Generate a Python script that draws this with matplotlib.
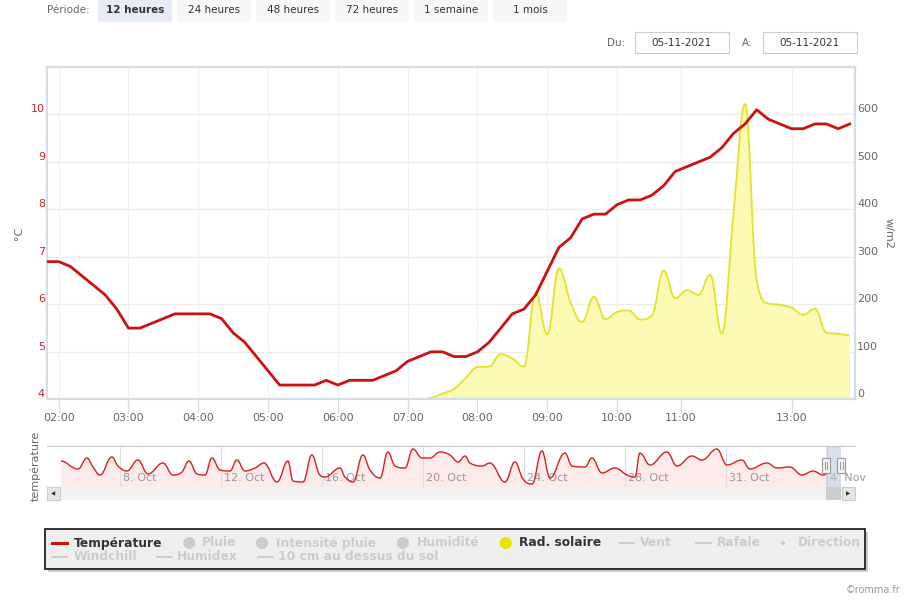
import matplotlib
matplotlib.use("Agg")
import matplotlib.pyplot as plt
from matplotlib.path import Path
from matplotlib.patches import PathPatch, Rectangle, Circle
from matplotlib.transforms import IdentityTransform, blended_transform_factory, offset_copy
from matplotlib.lines import Line2D

# ---------------- data ----------------
# main chart: ordinal index of 10-minute readings (01:50 -> 13:30)
temperature = [6.9, 6.9, 6.8, 6.6, 6.4, 6.2, 5.9, 5.5, 5.5, 5.6,
               5.7, 5.8, 5.8, 5.8, 5.8, 5.7, 5.4, 5.2, 4.9, 4.6,
               4.3, 4.3, 4.3, 4.3, 4.4, 4.3, 4.4, 4.4, 4.4, 4.5,
               4.6, 4.8, 4.9, 5.0, 5.0, 4.9, 4.9, 5.0, 5.2, 5.5,
               5.8, 5.9, 6.2, 6.7, 7.2, 7.4, 7.8, 7.9, 7.9, 8.1,
               8.2, 8.2, 8.3, 8.5, 8.8, 8.9, 9.0, 9.1, 9.3, 9.6,
               9.8, 10.1, 9.9, 9.8, 9.7, 9.7, 9.8, 9.8, 9.7, 9.8]
radiation = [0] * 33 + [3, 12, 22, 45, 68, 69, 95, 86, 69, 225,
                        137, 276, 204, 163, 216, 169, 184, 187, 168, 177,
                        271, 213, 230, 220, 262, 139, 390, 622, 250, 202,
                        199, 193, 178, 191, 140, 138, 134]
point_index = list(range(len(temperature)))
time_tick_pos = [1, 7, 13, 19, 25, 31, 37, 43, 49, 54.5, 64]
time_tick_labels = ["02:00", "03:00", "04:00", "05:00", "06:00", "07:00",
                    "08:00", "09:00", "10:00", "11:00", "13:00"]
temp_ticks = [4, 5, 6, 7, 8, 9, 10]
rad_ticks = [0, 100, 200, 300, 400, 500, 600]

# navigator: ordinal day position (October days) and temperature
nav_day = [5.66, 5.82, 6.10, 6.34, 6.69, 6.93, 7.21, 7.68, 7.92, 8.28,
           8.71, 9.11, 9.70, 10.10, 10.46, 10.73, 11.05, 11.37, 11.64, 11.96,
           12.36, 12.63, 12.95, 13.35, 13.70, 14.22, 14.65, 14.85, 15.25, 15.60,
           15.92, 16.12, 16.71, 16.91, 17.23, 17.62, 17.90, 18.30, 18.61, 18.89,
           19.29, 19.60, 19.96, 20.28, 20.67, 21.07, 21.39, 21.66, 21.86, 22.34,
           22.65, 23.25, 23.64, 23.96, 24.32, 24.71, 25.03, 25.62, 25.90, 26.42,
           26.69, 27.09, 27.60, 28.08, 28.40, 28.59, 28.99, 29.66, 30.06, 30.65,
           31.05, 31.64, 32.04, 32.63, 32.95, 33.62, 34.02, 34.53, 35.01, 35.45,
           35.84, 36.04]
nav_temp = [13.6, 13.2, 11.2, 10.4, 14.8, 11.2, 8.0, 15.2, 11.6, 9.6,
            14.0, 8.4, 12.8, 8.0, 9.2, 13.6, 8.4, 8.0, 14.8, 10.0,
            9.6, 14.0, 9.6, 10.8, 12.8, 5.2, 13.6, 5.6, 5.2, 16.0,
            8.0, 7.2, 10.8, 7.2, 5.2, 16.0, 10.0, 6.8, 17.2, 11.6,
            10.8, 18.4, 14.8, 14.8, 17.2, 16.0, 13.2, 15.6, 12.8, 11.6,
            12.8, 5.2, 13.2, 6.4, 4.4, 17.6, 6.8, 16.8, 11.6, 11.2,
            14.8, 8.8, 10.8, 8.0, 7.2, 16.8, 12.0, 17.2, 11.6, 15.6,
            14.0, 18.4, 12.0, 14.0, 10.4, 12.8, 10.8, 11.2, 8.0, 9.6,
            8.0, 8.8]
nav_tick_pos = [8, 12, 16, 20, 24, 28, 32, 36]
nav_tick_labels = ["8. Oct", "12. Oct", "16. Oct", "20. Oct", "24. Oct",
                   "28. Oct", "31. Oct", "4. Nov"]

periods = ["12 heures", "24 heures", "48 heures", "72 heures", "1 semaine", "1 mois"]
date_from = "05-11-2021"
date_to = "05-11-2021"

legend_row1 = ["Température", "Pluie", "Intensité pluie", "Humidité",
               "Rad. solaire", "Vent", "Rafale", "Direction"]
legend_row2 = ["Windchill", "Humidex", "10 cm au dessus du sol"]

# ---------------- styles / layout ----------------
W, H = 910, 600
RED = "#cc1111"
YEL_LINE = "#e3e32a"
YEL_FILL = "#fbf9ab"
GREY_TXT = "#666666"
INACTIVE = "#cccccc"

fig = plt.figure(figsize=(W / 100, H / 100), dpi=100)
fig.patch.set_facecolor("white")


def fx(x):
    return x / W


def fy(y):
    return 1 - y / H


def spline(xs, ys):
    """Highcharts-like spline path (smoothing 1.5)."""
    n = len(xs)
    sm, den = 1.5, 2.5
    lc = [None] * n
    rc = [None] * n
    for i in range(1, n - 1):
        px, py = xs[i], ys[i]
        lx, ly = xs[i - 1], ys[i - 1]
        nx, ny = xs[i + 1], ys[i + 1]
        lcx, lcy = (sm * px + lx) / den, (sm * py + ly) / den
        rcx, rcy = (sm * px + nx) / den, (sm * py + ny) / den
        corr = 0
        if rcx != lcx:
            corr = (rcy - lcy) * (rcx - px) / (rcx - lcx) + py - rcy
        lcy += corr
        rcy += corr
        if lcy > ly and lcy > py:
            lcy = max(ly, py); rcy = 2 * py - lcy
        elif lcy < ly and lcy < py:
            lcy = min(ly, py); rcy = 2 * py - lcy
        if rcy > ny and rcy > py:
            rcy = max(ny, py); lcy = 2 * py - rcy
        elif rcy < ny and rcy < py:
            rcy = min(ny, py); lcy = 2 * py - rcy
        lc[i] = (lcx, lcy)
        rc[i] = (rcx, rcy)
    verts = [(xs[0], ys[0])]
    codes = [Path.MOVETO]
    for i in range(1, n):
        c1 = rc[i - 1] if rc[i - 1] else (xs[i - 1], ys[i - 1])
        c2 = lc[i] if lc[i] else (xs[i], ys[i])
        verts += [c1, c2, (xs[i], ys[i])]
        codes += [Path.CURVE4] * 3
    return verts, codes


# ---------------- main chart ----------------
ax_r = fig.add_axes([fx(47), fy(399.3), (855 - 47) / W, (399.3 - 67) / H])
ax_r.set_xlim(0, 69.45)
ax_r.set_ylim(0, 700)
ax_t = ax_r.twinx()
ax_t.set_ylim(4, 11)

for a in (ax_r, ax_t):
    for s in a.spines.values():
        s.set_color("#d3dfe8")
        s.set_linewidth(1.5)

# grid
for v in rad_ticks:
    ax_r.axhline(v, color="#ececec", lw=0.8, zorder=0)
for p in time_tick_pos:
    ax_r.axvline(p, color="#eef1f4", lw=0.8, zorder=0)

# radiation area spline
v, c = spline(point_index, radiation)
fill_verts = v + [(point_index[-1], 0), (point_index[0], 0), (point_index[0], 0)]
fill_codes = c + [Path.LINETO, Path.LINETO, Path.CLOSEPOLY]
ax_r.add_patch(PathPatch(Path(fill_verts, fill_codes), facecolor=YEL_FILL,
                         edgecolor="none", alpha=0.9, zorder=1))
ax_r.add_patch(PathPatch(Path(v, c), facecolor="none", edgecolor=YEL_LINE,
                         lw=1.3, zorder=2))

# temperature line
ax_t.plot(point_index, temperature, color=RED, lw=2.0, zorder=5,
          solid_joinstyle="round")

# x ticks
ax_r.set_xticks(time_tick_pos)
ax_r.set_xticklabels(time_tick_labels)
ax_r.tick_params(axis="x", length=10, width=1, color="#d3dfe8", pad=0.0,
                 labelsize=8, labelcolor=GREY_TXT)
ax_r.set_yticks([])
ax_t.set_yticks([])

# y labels (drawn as text so they sit slightly above grid lines like the original)
tl = offset_copy(blended_transform_factory(ax_t.transAxes, ax_t.transData),
                 fig=fig, x=-2, y=5, units="dots")
for t in temp_ticks:
    ax_t.text(0, t, str(t), transform=tl, ha="right", va="center",
              fontsize=8, color="#c62828", clip_on=False)
tr = offset_copy(blended_transform_factory(ax_r.transAxes, ax_r.transData),
                 fig=fig, x=2, y=5, units="dots")
for t in rad_ticks:
    ax_r.text(1, t, str(t), transform=tr, ha="left", va="center",
              fontsize=8, color=GREY_TXT, clip_on=False)

fig.text(fx(19), fy(233), "°C", rotation=90, ha="center", va="center",
         fontsize=8, color=GREY_TXT)
fig.text(fx(889), fy(233), "w/m2", rotation=270, ha="center", va="center",
         fontsize=8, color=GREY_TXT)

# ---------------- navigator ----------------
nav = fig.add_axes([fx(47), fy(487), (855 - 47) / W, (487 - 446) / H])
nav.set_xlim(5.11, 37.11)
nav.set_ylim(3.2, 19.6)
for k, s in nav.spines.items():
    s.set_visible(k == "top")
nav.spines["top"].set_color("#c8c8c8")
nav.set_xticks([])
nav.set_yticks([])

nv, nc = spline(nav_day, nav_temp)
nfv = nv + [(nav_day[-1], 3.2), (nav_day[0], 3.2), (nav_day[0], 3.2)]
nfc = nc + [Path.LINETO, Path.LINETO, Path.CLOSEPOLY]
nav.add_patch(PathPatch(Path(nfv, nfc), facecolor="#fde3e3", edgecolor="none",
                        alpha=0.75, zorder=1))

for p, lab in zip(nav_tick_pos, nav_tick_labels):
    nav.axvline(p, color="#dedede", lw=0.8, zorder=2)
    nav.text(p, 0.23, lab, transform=offset_copy(
        blended_transform_factory(nav.transData, nav.transAxes), fig=fig, x=3, y=0, units="dots"),
        ha="left", va="center", fontsize=8, color="#9a9a9a", zorder=3)

nav.add_patch(PathPatch(Path(nv, nc), facecolor="none", edgecolor="#d42020",
                        lw=1.0, zorder=4))

sel_start, sel_end = 35.95, 36.57
nav.axvspan(sel_start, sel_end, color="#b8c6dc", alpha=0.55, zorder=5, lw=0)

fig.text(fx(35), fy(466), "température", rotation=90, ha="center", va="center",
         fontsize=8, color=GREY_TXT)

ID = IdentityTransform()


def prect(x0, y0, x1, y1, **kw):
    fig.patches.append(Rectangle((x0, H - y1), x1 - x0, y1 - y0, transform=ID, **kw))


# scrollbar
prect(47, 487, 855, 500, facecolor="#f2f2f2", edgecolor="none")
fig.canvas.draw()
xs_sel = nav.transData.transform([(sel_start, 0), (sel_end, 0)])[:, 0]
prect(xs_sel[0], 487, xs_sel[1], 500, facecolor="#cccccc", edgecolor="none")
prect(47, 487, 60, 500, facecolor="#e6e6e6", edgecolor="#cccccc", lw=0.8)
prect(842, 487, 855, 500, facecolor="#e6e6e6", edgecolor="#cccccc", lw=0.8)
fig.text(fx(53.5), fy(493.5), "◀", ha="center", va="center", fontsize=4, color="#333333")
fig.text(fx(848.5), fy(493.5), "▶", ha="center", va="center", fontsize=4, color="#333333")

# handles
for hx in xs_sel:
    prect(hx - 4, 458, hx + 4, 473, facecolor="#f2f2f2", edgecolor="#999999", lw=0.8)
    for dx in (-1.2, 1.2):
        fig.lines.append(Line2D([hx + dx, hx + dx], [H - 469, H - 462],
                                transform=ID, color="#999999", lw=0.7))

# ---------------- top controls ----------------
fig.text(fx(47), fy(10), "Période:", ha="left", va="center", fontsize=7.5, color=GREY_TXT)
btn_x = [(98, 172), (177, 251), (256, 330), (335, 409), (414, 488), (493, 567)]
for i, (lab, (x0, x1)) in enumerate(zip(periods, btn_x)):
    active = i == 0
    prect(x0, 0, x1, 22, facecolor="#e6ebf5" if active else "#f7f7f7", edgecolor="none")
    fig.text(fx((x0 + x1) / 2), fy(10), lab, ha="center", va="center", fontsize=7.5,
             color="#333333", fontweight="bold" if active else "normal")

fig.text(fx(607), fy(43), "Du:", ha="left", va="center", fontsize=7.5, color=GREY_TXT)
prect(635, 32, 729, 53, facecolor="white", edgecolor="#cccccc", lw=0.8)
fig.text(fx(682), fy(43), date_from, ha="center", va="center", fontsize=7.5, color="#333333")
fig.text(fx(742), fy(43), "A:", ha="left", va="center", fontsize=7.5, color=GREY_TXT)
prect(763, 32, 857, 53, facecolor="white", edgecolor="#cccccc", lw=0.8)
fig.text(fx(810), fy(43), date_to, ha="center", va="center", fontsize=7.5, color="#333333")

# ---------------- legend ----------------
prect(48, 532, 868, 572, facecolor="#9a9a9a", edgecolor="none", alpha=0.5)
prect(45, 529, 865, 569, facecolor="#efefef", edgecolor="#222222", lw=1.3)

row1_kind = ["line", "circle", "circle", "circle", "circle", "line", "line", "dot"]
row1_active = [True, False, False, False, True, False, False, False]
row1_color = [RED, INACTIVE, INACTIVE, INACTIVE, "#e6e600", INACTIVE, INACTIVE, INACTIVE]
row1_sym_x = [59.5, 189.3, 262, 403, 505.7, 626, 703, 783]
row1_txt_x = [74, 202, 276, 417, 519, 640, 717, 798]
row2_sym_x = [59.5, 164, 265.5]
row2_txt_x = [73.5, 177, 278]


def legend_item(kind, color, sx, tx, y, label, active):
    if kind == "line":
        fig.lines.append(Line2D([sx - 7.5, sx + 7.5], [H - y, H - y], transform=ID,
                                color=color, lw=2.2 if active else 1.3))
    elif kind == "circle":
        fig.patches.append(Circle((sx, H - y), 6, transform=ID, facecolor=color,
                                  edgecolor="none"))
    else:
        fig.patches.append(Circle((sx, H - y), 2, transform=ID, facecolor=color,
                                  edgecolor="none"))
    fig.text(fx(tx), fy(y), label, ha="left", va="center", fontsize=8.8,
             fontweight="bold", color="#333333" if active else INACTIVE)


for lab, k, col, act, sx, tx in zip(legend_row1, row1_kind, row1_color, row1_active,
                                     row1_sym_x, row1_txt_x):
    legend_item(k, col, sx, tx, 543, lab, act)
for lab, sx, tx in zip(legend_row2, row2_sym_x, row2_txt_x):
    legend_item("line", INACTIVE, sx, tx, 557, lab, False)

fig.text(fx(900), fy(590), "©romma.fr", ha="right", va="center", fontsize=7, color="#999999")

fig.savefig("out.png", dpi=100)
